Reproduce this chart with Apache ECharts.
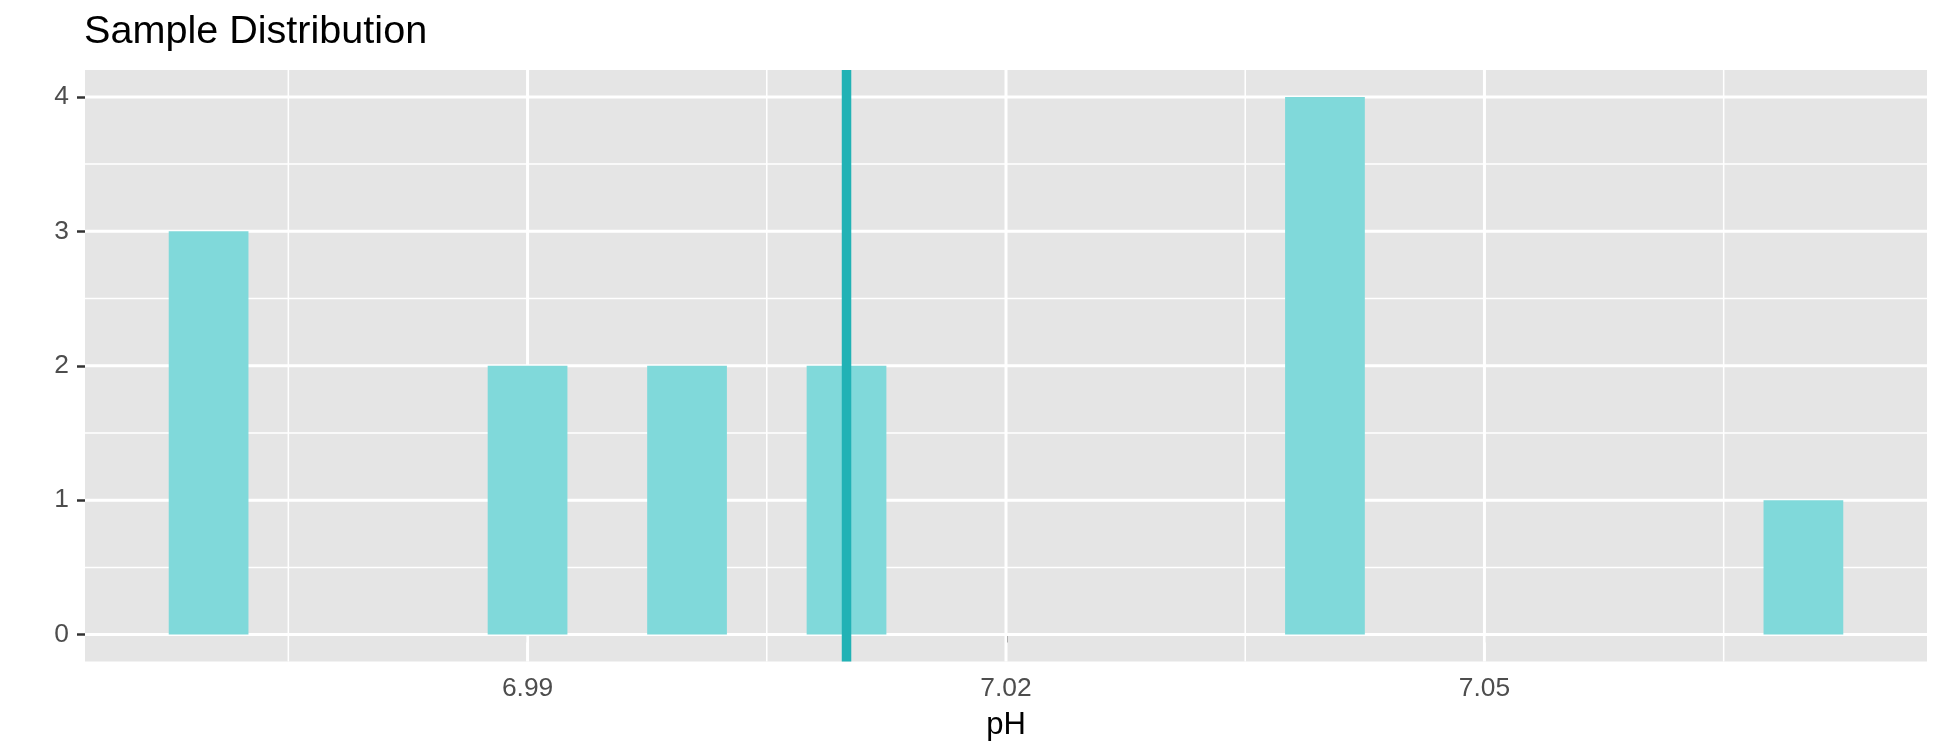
<!DOCTYPE html>
<html>
<head>
<meta charset="utf-8">
<script src="https://cdn.jsdelivr.net/npm/echarts@6/dist/echarts.min.js"></script>
<style>
html,body{margin:0;padding:0;background:#fff;}
#chart{width:1944px;height:756px;}
</style>
</head>
<body>
<div id="chart"></div>
<script>
// ---- data ----
var phValues = [6.97, 6.99, 7.00, 7.01, 7.04, 7.07];
var counts = [3, 2, 2, 2, 4, 1];
var binWidth = 0.005;
var meanPH = 7.01;
var xTicks = [6.99, 7.02, 7.05];
var xTickLabels = ['6.99', '7.02', '7.05'];
var xMinorGrid = [6.975, 7.005, 7.035, 7.065];
var yTicks = [0, 1, 2, 3, 4];
var yTickLabels = ['0', '1', '2', '3', '4'];
var yMinorGrid = [0.5, 1.5, 2.5, 3.5];
var titleText = 'Sample Distribution';
var xName = 'pH';

// ---- scales (ggplot-like 5% expansion) ----
var lo = Math.min.apply(null, phValues) - binWidth / 2;
var hi = Math.max.apply(null, phValues) + binWidth / 2;
var xPad = 0.05 * (hi - lo);
var yTop = Math.max.apply(null, counts);
var yPad = 0.05 * yTop;

var FONT = "'Liberation Sans', Arial, Helvetica, sans-serif";
var barData = phValues.map(function (v, i) { return [v, counts[i]]; });

function vLineSeries(vals, color, width, z) {
  return {
    type: 'custom', silent: true, z: z, clip: false,
    data: vals.map(function (v) { return [v, 0]; }),
    encode: { x: 0, y: 1 },
    renderItem: function (params, api) {
      var cs = params.coordSys;
      var px = api.coord([api.value(0), 0])[0];
      return { type: 'line', shape: { x1: px, y1: cs.y, x2: px, y2: cs.y + cs.height },
               style: { stroke: color, lineWidth: width } };
    }
  };
}
function hLineSeries(vals, color, width, z) {
  return {
    type: 'custom', silent: true, z: z, clip: false,
    data: vals.map(function (v) { return [lo, v]; }),
    encode: { x: 0, y: 1 },
    renderItem: function (params, api) {
      var cs = params.coordSys;
      var py = api.coord([lo, api.value(1)])[1];
      return { type: 'line', shape: { x1: cs.x, y1: py, x2: cs.x + cs.width, y2: py },
               style: { stroke: color, lineWidth: width } };
    }
  };
}

var chart = echarts.init(document.getElementById('chart'), null, { renderer: 'canvas' });
chart.setOption({
  animation: false,
  backgroundColor: '#ffffff',
  title: {
    text: titleText,
    left: 84, top: 12, padding: 0,
    textStyle: { fontFamily: FONT, fontSize: 39.6, fontWeight: 'normal', color: '#000000' }
  },
  grid: {
    left: 85, right: 17, top: 70, bottom: 94.5,
    show: true, backgroundColor: '#E5E5E5', borderWidth: 0
  },
  xAxis: {
    type: 'value',
    min: lo - xPad, max: hi + xPad,
    name: xName, nameLocation: 'middle', nameGap: 48,
    nameTextStyle: { fontFamily: FONT, fontSize: 31, color: '#000000' },
    axisLine: { show: false },
    splitLine: { show: false },
    axisTick: { show: true, customValues: xTicks, length: 8, lineStyle: { color: '#333333', width: 2.5 } },
    axisLabel: {
      customValues: xTicks, margin: 14,
      fontFamily: FONT, fontSize: 26.4, color: '#4D4D4D',
      formatter: function (v) { var i = xTicks.indexOf(v); return i >= 0 ? xTickLabels[i] : ''; }
    }
  },
  yAxis: {
    type: 'value',
    min: -yPad, max: yTop + yPad,
    axisLine: { show: false },
    splitLine: { show: false },
    axisTick: { show: true, customValues: yTicks, length: 8, lineStyle: { color: '#333333', width: 2.5 } },
    axisLabel: {
      customValues: yTicks, margin: 16,
      fontFamily: FONT, fontSize: 26.4, color: '#4D4D4D',
      formatter: function (v) { var i = yTicks.indexOf(v); return i >= 0 ? yTickLabels[i] : ''; }
    }
  },
  series: [
    vLineSeries(xMinorGrid, '#ffffff', 1.5, 1),
    hLineSeries(yMinorGrid, '#ffffff', 1.5, 1),
    vLineSeries(xTicks, '#ffffff', 3, 1),
    hLineSeries(yTicks, '#ffffff', 3, 1),
    {
      type: 'custom', z: 2, silent: true,
      data: barData,
      encode: { x: 0, y: 1 },
      renderItem: function (params, api) {
        var x = api.value(0), c = api.value(1);
        var p0 = api.coord([x - binWidth / 2, c]);
        var p1 = api.coord([x + binWidth / 2, 0]);
        return {
          type: 'rect',
          shape: { x: p0[0], y: p0[1], width: p1[0] - p0[0], height: p1[1] - p0[1] },
          style: { fill: '#80D9DA' }
        };
      }
    },
    vLineSeries([meanPH], '#21B2B5', 9.5, 3)
  ]
});
</script>
</body>
</html>
